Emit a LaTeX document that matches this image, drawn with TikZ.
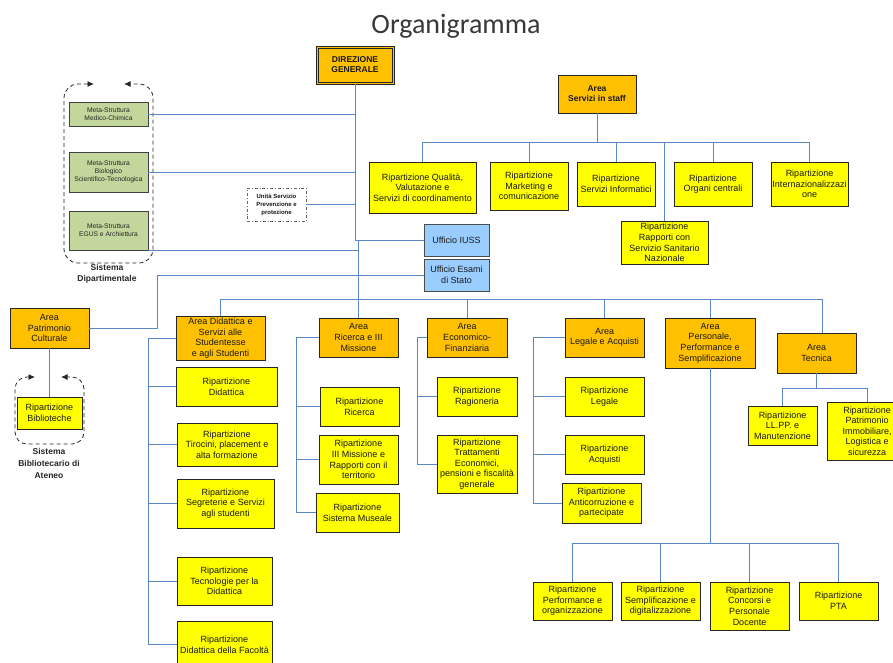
\documentclass[tikz,border=0pt]{standalone}
\usepackage{fontspec}
\setmainfont{Liberation Sans}
\newfontfamily\titlefont{Carlito}
\usetikzlibrary{arrows.meta}
\definecolor{areaor}{HTML}{FFC000}
\definecolor{ripyel}{HTML}{FFFF00}
\definecolor{metagr}{HTML}{C3D69B}
\definecolor{uffbl}{HTML}{99CCFF}
\definecolor{linkbl}{HTML}{5B87C7}
% box given by its corners: name, x1, y1, x2, y2, style, text
\newcommand\bx[7]{\node[#6, minimum width={(#4-#2)*1pt}, minimum height={(#5-#3)*1pt}] (#1) at ({(#2+#4)/2},{(#3+#5)/2}) {#7};}
\begin{document}
\begin{tikzpicture}[x=1pt,y=-1pt,
  box/.style={draw=black!85, line width=0.8pt, align=center, inner xsep=1pt, inner ysep=0pt,
    font=\fontsize{9}{10.6}\selectfont, text=black!90},
  area/.style={box, fill=areaor},
  areab/.style={area, font=\fontsize{8.5}{10}\selectfont\bfseries},
  rip/.style={box, fill=ripyel},
  meta/.style={box, fill=metagr, draw=black!75, font=\fontsize{6.7}{8}\selectfont, text=black!85},
  uff/.style={box, fill=uffbl, draw=black!70},
  uspbox/.style={box, fill=white, draw=black!60, dash dot, font=\fontsize{6}{8}\selectfont\bfseries},
  link/.style={draw=linkbl, line width=0.9pt},
  cont/.style={draw=black!85, line width=0.8pt, dash pattern=on 4pt off 3pt, rounded corners=14pt,
    {Latex[length=6.5pt,width=6pt]}-{Latex[length=6.5pt,width=6pt]}},
  lab/.style={align=center, font=\fontsize{8.5}{11}\selectfont\bfseries, text=black!85, inner sep=0pt}]
\clip (0,0) rectangle (893,662);
\fill[white] (0,0) rectangle (893,662);

\node[font=\titlefont\fontsize{28}{30}\selectfont, text=black!78] (title) at (456,26) {Organigramma};

% top management and staff area
\bx{dg}{316}{46}{394}{84}{areab}{DIREZIONE\\GENERALE}
\draw[line width=0.8pt, black!85] ([shift={(2.5,2.5)}]dg.north west) rectangle ([shift={(-2.5,-2.5)}]dg.south east);
\bx{staff}{558}{75}{636}{113}{areab}{Area\\Servizi in staff}

\bx{rq}{369}{162}{476}{213}{rip}{Ripartizione Qualità,\\Valutazione e\\Servizi di coordinamento}
\bx{rm}{490}{162}{568}{210}{rip}{Ripartizione\\Marketing e\\comunicazione}
\bx{rsi}{577}{162}{655}{206}{rip}{Ripartizione\\Servizi Informatici}
\bx{roc}{674}{162}{752}{206}{rip}{Ripartizione\\Organi centrali}
\bx{rint}{771}{162}{848}{206}{rip}{Ripartizione\\Internazionalizzazi\\one}
\bx{rssn}{621}{221}{708}{264}{rip}{Ripartizione\\Rapporti con\\Servizio Sanitario\\Nazionale}

% departmental system
\bx{m1}{69}{102}{148}{126}{meta}{Meta-Struttura\\Medico-Chimica}
\bx{m2}{69}{152}{148}{192}{meta}{Meta-Struttura\\Biologico\\Scientifico-Tecnologica}
\bx{m3}{69}{211}{148}{250}{meta}{Meta-Struttura\\EGUS e Archiettura}
\draw[cont] (94,84) -- (64,84) -- (64,263) -- (153,263) -- (153,84) -- (124,84);
\node[lab] (sdlab) at (107,274) {Sistema\\Dipartimentale};

\bx{usp}{247}{188}{306}{221}{uspbox}{Unità Servizio\\Prevenzione e\\protezione}
\bx{iuss}{424}{224}{489}{256}{uff}{Ufficio IUSS}
\bx{esami}{424}{259}{489}{291}{uff}{Ufficio Esami\\di Stato}

% library system
\bx{pat}{10}{308}{89}{348}{area}{Area\\Patrimonio\\Culturale}
\bx{bib}{17}{397}{82}{429}{rip}{Ripartizione\\Biblioteche}
\draw[cont, rounded corners=12pt] (35,377) -- (15,377) -- (15,444) -- (84,444) -- (84,377) -- (61,377);
\node[lab, font=\fontsize{8.5}{12}\selectfont\bfseries] (sblab) at (49,463) {Sistema\\Bibliotecario di\\Ateneo};

% areas
\bx{did}{176}{316}{265}{360}{area}{Area Didattica e\\Servizi alle\\Studentesse\\e agli Studenti}
\bx{rdid}{176}{367}{277}{406}{rip}{Ripartizione\\Didattica}
\bx{rtir}{177}{423}{277}{466}{rip}{Ripartizione\\Tirocini, placement e\\alta formazione}
\bx{rseg}{177}{479}{274}{528}{rip}{Ripartizione\\Segreterie e Servizi\\agli studenti}
\bx{rtec}{177}{557}{272}{605}{rip}{Ripartizione\\Tecnologie per la\\Didattica}
\bx{rfac}{177}{621}{272}{668}{rip}{Ripartizione\\Didattica della Facoltà}

\bx{ric}{319}{318}{398}{357}{area}{Area\\Ricerca e III\\Missione}
\bx{rric}{320}{387}{399}{426}{rip}{Ripartizione\\Ricerca}
\bx{rter}{319}{435}{398}{484}{rip}{Ripartizione\\III Missione e\\Rapporti con il\\territorio}
\bx{rmus}{316}{493}{399}{532}{rip}{Ripartizione\\Sistema Museale}

\bx{eco}{427}{318}{507}{357}{area}{Area\\Economico-\\Finanziaria}
\bx{rrag}{437}{377}{517}{416}{rip}{Ripartizione\\Ragioneria}
\bx{rtra}{437}{435}{517}{493}{rip}{Ripartizione\\Trattamenti\\Economici,\\pensioni e fiscalità\\generale}

\bx{leg}{565}{318}{644}{357}{area}{Area\\Legale e Acquisti}
\bx{rleg}{565}{377}{644}{416}{rip}{Ripartizione\\Legale}
\bx{racq}{565}{435}{644}{474}{rip}{Ripartizione\\Acquisti}
\bx{ranti}{562}{483}{641}{523}{rip}{Ripartizione\\Anticorruzione e\\partecipate}

\bx{per}{665}{318}{755}{368}{area}{Area\\Personale,\\Performance e\\Semplificazione}
\bx{rperf}{533}{582}{612}{620}{rip}{Ripartizione\\Performance e\\organizzazione}
\bx{rsem}{621}{582}{700}{620}{rip}{Ripartizione\\Semplificazione e\\digitalizzazione}
\bx{rcon}{710}{582}{789}{630}{rip}{Ripartizione\\Concorsi e\\Personale\\Docente}
\bx{rpta}{799}{582}{878}{620}{rip}{Ripartizione\\PTA}

\bx{tec}{777}{333}{856}{373}{area}{Area\\Tecnica}
\bx{rll}{748}{406}{817}{445}{rip}{Ripartizione\\LL.PP. e\\Manutenzione}
\bx{rpim}{827}{402}{907}{460}{rip}{Ripartizione\\Patrimonio\\Immobiliare,\\Logistica e\\sicurezza}

% connectors: staff
\coordinate (sbus) at (0,142);
\draw[link] (staff.south) -- (staff.south |- sbus);
\draw[link] (rq.north |- sbus) -- (rint.north |- sbus);
\foreach \n in {rq,rm,rsi,roc,rint,rssn} \draw[link] (\n.north) -- (\n.north |- sbus);

% connectors: main trunk
\draw[link] (dg.south) -- (dg.south |- iuss.west) -- (iuss.west);
\draw[link] (iuss.west) -| (ric.north);
\draw[link] (m1.east) -- (m1.east -| dg.south);
\draw[link] (m2.east) -- (m2.east -| dg.south);
\draw[link] (usp.east) -- (usp.east -| dg.south);
\draw[link] (m3.south east) -- (m3.south east -| ric.north);
\coordinate (pk) at (157,0);
\draw[link] (pat.east) -- (pat.east -| pk) |- (esami.west);
\draw[link] (pat.south) -- (bib.north);

% connectors: areas
\coordinate (mbus) at (0,299);
\coordinate (tecin) at ([xshift=5.5pt]tec.north);
\draw[link] (did.north |- mbus) -- (tecin |- mbus);
\foreach \n in {did,eco,leg,per} \draw[link] (\n.north) -- (\n.north |- mbus);
\draw[link] (tecin) -- (tecin |- mbus);

\coordinate (db) at (148,0);
\draw[link] (did.west) -- (did.west -| db) -- (db |- rfac.west);
\foreach \n in {rdid,rtir,rseg,rtec,rfac} \draw[link] (db |- \n.west) -- (\n.west);

\coordinate (rb) at (296,0);
\draw[link] (ric.west) -- (ric.west -| rb) -- (rb |- rmus.west);
\foreach \n in {rric,rter,rmus} \draw[link] (rb |- \n.west) -- (\n.west);

\coordinate (eb) at (417,0);
\draw[link] (eco.west) -- (eco.west -| eb) -- (eb |- rtra.west);
\foreach \n in {rrag,rtra} \draw[link] (eb |- \n.west) -- (\n.west);

\coordinate (lb) at (533,0);
\draw[link] (leg.west) -- (leg.west -| lb) -- (lb |- ranti.west);
\foreach \n in {rleg,racq,ranti} \draw[link] (lb |- \n.west) -- (\n.west);

\coordinate (pbus) at (0,543);
\draw[link] (per.south) -- (per.south |- pbus);
\draw[link] (rperf.north |- pbus) -- (rpta.north |- pbus);
\foreach \n in {rperf,rsem,rcon,rpta} \draw[link] (\n.north) -- (\n.north |- pbus);

\coordinate (tbus) at (0,388);
\draw[link] (tec.south) -- (tec.south |- tbus);
\draw[link] (rll.north |- tbus) -- (rpim.north |- tbus);
\foreach \n in {rll,rpim} \draw[link] (\n.north) -- (\n.north |- tbus);
\end{tikzpicture}
\end{document}
